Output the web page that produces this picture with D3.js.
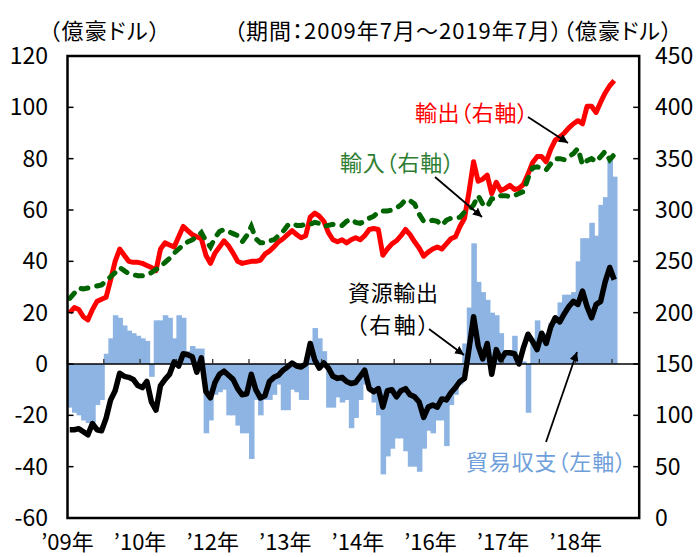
<!DOCTYPE html>
<html>
<head>
<meta charset="utf-8">
<script src="https://cdn.jsdelivr.net/npm/d3@7"></script>
<style>
  html, body { margin: 0; padding: 0; background: #fff; }
  svg text { font-family: "Noto Sans CJK JP", "Noto Sans", sans-serif; font-feature-settings: "palt"; }
</style>
</head>
<body>
<svg id="chart" width="700" height="557"></svg>
<script>
// Monthly, 2009/07 - 2019/07 (121 months); axis runs to 2019/12 (126 slots)
const nSlots = 126;

// trade balance, 億豪ドル (left axis)
const balance = [
  -17, -19, -20, -22, -23, -23, -16, -14, 4, 10,
  19, 18, 15, 13, 12, 11, 10, 9, -5, 17,
  17, 19, 18, 10, 19, 18, 5, 7, 6, 6,
  -27, -22, -12, -11, -10, -20, -20, -24, -27, -27,
  -37, -14, -20, -14, -14, -12, -8, -18, -18, -10,
  -11, -14, -14, 9, 14, 10, 5, -17, -17, -13,
  -15, -14, -25, -21, -14, -8, -10, -15, -20, -43,
  -36, -33, -29, -29, -34, -40, -40, -42, -33, -26,
  -27, -22, -22, -32, -16, -12, -8, 8, 22, 47,
  32, 28, 25, 20, 19, 12, 4, 4, 11, 3,
  1, -19, 10, 17, 9, 12, 16, 18, 24, 27,
  27, 28, 40, 49, 49, 55, 50, 62, 65, 80,
  73
];

// exports, 億豪ドル (right axis)
const exports = [
  200, 205, 203, 196, 193, 203, 211, 213, 215, 232,
  250, 262, 256, 250, 249, 249, 248, 246, 244, 241,
  262, 268, 266, 264, 274, 284, 280, 276, 274, 272,
  256, 248, 258, 264, 270, 265, 258, 250, 248, 249,
  250, 250, 251, 257, 260, 264, 269, 272, 276, 280,
  276, 273, 275, 293, 297, 294, 289, 278, 271, 269,
  271, 268, 271, 273, 271, 275, 281, 282, 281, 256,
  262, 267, 270, 275, 281, 276, 269, 263, 255, 259,
  262, 264, 262, 267, 272, 274, 284, 292, 318, 347,
  328, 330, 334, 316, 327, 319, 321, 324, 320, 321,
  325, 335, 346, 352, 352, 347, 359, 368, 371, 375,
  380, 384, 387, 384, 401, 401, 395, 405, 414, 421,
  426
];

// imports, 億豪ドル (right axis)
const imports = [
  214, 219, 224, 223, 224, 225, 226, 227, 231, 235,
  239, 244, 241, 238, 237, 236, 236, 237, 239, 242,
  245, 249, 253, 258, 262, 266, 269, 271, 274, 278,
  270, 264, 273, 279, 281, 279, 277, 275, 269, 275,
  284, 272, 268, 268, 270, 271, 275, 279, 285, 287,
  285, 285, 286, 286, 288, 287, 284, 285, 286, 285,
  285, 289, 291, 288, 287, 289, 292, 294, 298, 299,
  299, 300, 302, 305, 310, 309, 306, 296, 289, 289,
  290, 289, 285, 290, 292, 292, 293, 298, 300, 305,
  314, 306, 303, 311, 311, 314, 314, 313, 314, 316,
  318, 331, 341, 342, 341, 339, 345, 350, 350, 349,
  352, 355, 360, 344, 348, 350, 347, 352, 357, 349,
  354
];

// resource exports, 億豪ドル (right axis)
const resources = [
  86, 86, 87, 84, 81, 92, 86, 85, 97, 115,
  124, 141, 138, 137, 135, 129, 127, 133, 113, 105,
  129, 135, 140, 152, 148, 160, 159, 157, 142, 156,
  123, 117, 132, 140, 143, 139, 135, 126, 120, 121,
  140, 125, 117, 119, 133, 137, 139, 144, 147, 151,
  148, 147, 150, 170, 154, 146, 151, 146, 138, 136,
  137, 133, 131, 132, 138, 144, 126, 123, 126, 108,
  124, 125, 118, 124, 126, 120, 118, 113, 98, 108,
  110, 108, 116, 115, 122, 127, 133, 136, 165, 196,
  168, 155, 170, 140, 164, 154, 161, 161, 160, 150,
  166, 179, 172, 164, 180, 170, 186, 195, 191, 199,
  206, 211, 208, 221, 206, 195, 208, 211, 230, 244,
  232
];

const leftTicks = [120, 100, 80, 60, 40, 20, 0, -20, -40, -60];
const rightTicks = [450, 400, 350, 300, 250, 200, 150, 100, 50, 0];
const xLabels = ["’09年", "’10年", "’12年", "’13年", "’14年", "’16年", "’17年", "’18年"];
const labelEvery = 16;
const tickEvery = 8;

const svg = d3.select("#chart");
const plot = { left: 67.5, right: 639.2, top: 56, bottom: 518 };

const x = d3.scaleBand()
  .domain(d3.range(nSlots))
  .range([plot.left, plot.right])
  .padding(0);
const bw = x.bandwidth();
const cx = i => x(i) + bw / 2;

const yL = d3.scaleLinear().domain([-60, 120]).range([plot.bottom, plot.top]);
const yR = d3.scaleLinear().domain([0, 450]).range([plot.bottom, plot.top]);

// bars
svg.append("g")
  .selectAll("rect")
  .data(balance)
  .enter()
  .append("rect")
  .attr("x", (d, i) => x(i))
  .attr("width", bw + 1)
  .attr("y", d => yL(Math.max(0, d)))
  .attr("height", d => Math.abs(yL(d) - yL(0)))
  .attr("fill", "#8db4e3");

// zero line + category ticks
svg.append("line")
  .attr("x1", plot.left).attr("x2", plot.right)
  .attr("y1", yL(0)).attr("y2", yL(0))
  .attr("stroke", "#000").attr("stroke-width", 1.5);

svg.append("g")
  .selectAll("line")
  .data(d3.range(0, nSlots + 1, tickEvery))
  .enter()
  .append("line")
  .attr("x1", d => plot.left + d * bw).attr("x2", d => plot.left + d * bw)
  .attr("y1", yL(0)).attr("y2", yL(0) - 5)
  .attr("stroke", "#333").attr("stroke-width", 1.3);

// lines
const line = d3.line()
  .x((d, i) => cx(i))
  .y(d => yR(d));

svg.append("path")
  .attr("d", line(exports))
  .attr("fill", "none")
  .attr("stroke", "#ff0000")
  .attr("stroke-width", 5)
  .attr("stroke-linejoin", "round");

svg.append("path")
  .attr("d", line(imports))
  .attr("fill", "none")
  .attr("stroke", "#006400")
  .attr("stroke-width", 5)
  .attr("stroke-linecap", "round")
  .attr("stroke-dasharray", "7,9");

svg.append("path")
  .attr("d", line(resources))
  .attr("fill", "none")
  .attr("stroke", "#000")
  .attr("stroke-width", 5.5)
  .attr("stroke-linejoin", "round");

// frame
svg.append("rect")
  .attr("x", plot.left).attr("y", plot.top)
  .attr("width", plot.right - plot.left)
  .attr("height", plot.bottom - plot.top)
  .attr("fill", "none")
  .attr("stroke", "#000")
  .attr("stroke-width", 2.5);

// left axis
const gl = svg.append("g");
gl.selectAll("line")
  .data(leftTicks)
  .enter()
  .append("line")
  .attr("x1", plot.left).attr("x2", plot.left + 6)
  .attr("y1", d => yL(d)).attr("y2", d => yL(d))
  .attr("stroke", "#000").attr("stroke-width", 1.5);
gl.selectAll("text")
  .data(leftTicks)
  .enter()
  .append("text")
  .attr("x", 48)
  .attr("y", d => yL(d))
  .attr("dy", "0.35em")
  .attr("text-anchor", "end")
  .attr("font-size", "23px")
  .attr("fill", "#000")
  .text(d => d);

// right axis
const gr = svg.append("g");
gr.selectAll("line")
  .data(rightTicks)
  .enter()
  .append("line")
  .attr("x1", plot.right - 6).attr("x2", plot.right)
  .attr("y1", d => yR(d)).attr("y2", d => yR(d))
  .attr("stroke", "#000").attr("stroke-width", 1.5);
gr.selectAll("text")
  .data(rightTicks)
  .enter()
  .append("text")
  .attr("x", 655)
  .attr("y", d => yR(d))
  .attr("dy", "0.35em")
  .attr("text-anchor", "start")
  .attr("font-size", "23px")
  .attr("fill", "#000")
  .text(d => d);

// x labels
svg.append("g")
  .selectAll("text")
  .data(xLabels)
  .enter()
  .append("text")
  .attr("x", (d, k) => plot.left + k * labelEvery * bw)
  .attr("y", 542)
  .attr("dy", "0.35em")
  .attr("text-anchor", "middle")
  .attr("font-size", "22px")
  .attr("fill", "#000")
  .text(d => d);

// headers
svg.append("text")
  .attr("x", 49).attr("y", 31)
  .attr("dy", "0.35em")
  .attr("font-size", "22px")
  .attr("textLength", 111)
  .text("（億豪ドル）");

svg.append("text")
  .attr("x", 234).attr("y", 31)
  .attr("dy", "0.35em")
  .attr("font-size", "22px")
  .attr("textLength", 438)
  .text("（期間：2009年7月～2019年7月）（億豪ドル）");

// annotations
const notes = [
  { text: "輸出（右軸）", x: 415, y: 113, w: 113, color: "#ff0000" },
  { text: "輸入（右軸）", x: 340, y: 163, w: 114, color: "#2e7d32" },
  { text: "資源輸出", x: 348, y: 293, w: 90, color: "#000" },
  { text: "（右軸）", x: 356, y: 325, w: 73, color: "#000" },
  { text: "貿易収支（左軸）", x: 466, y: 462, w: 160, color: "#6f9fda" }
];
svg.append("g")
  .selectAll("text")
  .data(notes)
  .enter()
  .append("text")
  .attr("x", d => d.x).attr("y", d => d.y)
  .attr("dy", "0.35em")
  .attr("font-size", "22px")
  .attr("textLength", d => d.w)
  .attr("fill", d => d.color)
  .text(d => d.text);

// arrows
svg.append("defs").append("marker")
  .attr("id", "head")
  .attr("viewBox", "0 0 10 10")
  .attr("refX", 10).attr("refY", 5)
  .attr("markerWidth", 9).attr("markerHeight", 9)
  .attr("markerUnits", "userSpaceOnUse")
  .attr("orient", "auto")
  .append("path")
  .attr("d", "M0,0 L10,5 L0,10 Z")
  .attr("fill", "#000");

const arrows = [
  [528, 117, 568, 143],
  [435, 177, 482, 217],
  [429, 329, 464, 355],
  [546, 442, 577, 352]
];
svg.append("g")
  .selectAll("line")
  .data(arrows)
  .enter()
  .append("line")
  .attr("x1", d => d[0]).attr("y1", d => d[1])
  .attr("x2", d => d[2]).attr("y2", d => d[3])
  .attr("stroke", "#000")
  .attr("stroke-width", 1.8)
  .attr("marker-end", "url(#head)");
</script>
</body>
</html>
